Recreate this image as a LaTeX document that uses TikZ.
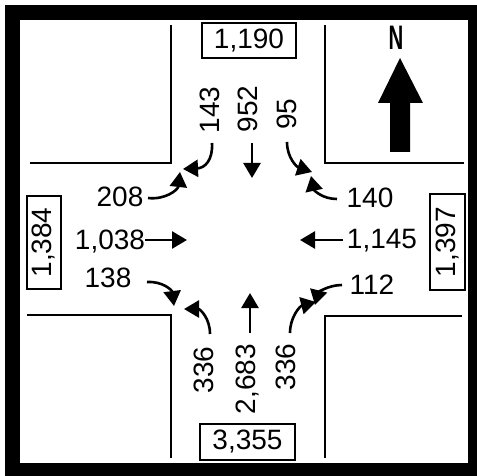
\documentclass[tikz,border=0pt]{standalone}
\usepackage{fontspec}
\setmainfont{Liberation Sans}
\usetikzlibrary{arrows.meta}
\begin{document}
\begin{tikzpicture}[x=1pt,y=-1pt,
  road/.style={line width=2.2pt},
  num/.style={font=\fontsize{28}{28}\selectfont, inner sep=0pt},
  flow/.style={line width=2.6pt, -{Triangle[length=15pt,width=17pt]}},
  tot/.style={draw, line width=1.6pt, font=\fontsize{28}{28}\selectfont, inner sep=0pt}]
\useasboundingbox (0,0) rectangle (477,476);
\fill[white] (0,0) rectangle (477,476);
\fill[black] (5,5) rectangle (477,476);
\fill[white] (20,20) rectangle (468,463);
% road edges
\draw[road] (30,163) -- (171,163) -- (171,25);
\draw[road] (325,25) -- (325,163) -- (464,163);
\draw[road] (27,315) -- (171,315) -- (171,458);
\draw[road] (462,316) -- (325,316) -- (325,458);
% north arrow
\node[font=\bfseries\fontsize{34}{34}\selectfont, xscale=0.6, inner sep=0pt] (north) at (396,38) {N};
\fill (400,58) -- (423,103) -- (410,103) -- (410,152) -- (390,152) -- (390,103) -- (378,103) -- cycle;
% totals
\node[tot, minimum width=94pt, minimum height=35pt] (tN) at (249,40.5) {1,190};
\node[tot, minimum width=95pt, minimum height=36pt] (tS) at (247.5,442) {3,355};
\node[tot, rotate=90, minimum width=93pt, minimum height=34pt] (tW) at (44,242.5) {1,384};
\node[tot, rotate=90, minimum width=96pt, minimum height=35pt] (tE) at (447.5,242) {1,397};
% volumes
\node[num, rotate=90] (n143) at (210,110) {143};
\node[num, rotate=90] (n952) at (248,109) {952};
\node[num, rotate=90] (n95) at (287,114) {95};
\node[num] (n208) at (120,197) {208};
\node[num] (n1038) at (110,242) {1,038};
\node[num] (n138) at (108,278) {138};
\node[num] (n140) at (370,198) {140};
\node[num] (n1145) at (382,241) {1,145};
\node[num] (n112) at (372,285) {112};
\node[num, rotate=90] (n336a) at (204,370) {336};
\node[num, rotate=90] (n2683) at (248,379) {2,683};
\node[num, rotate=90] (n336b) at (286,367) {336};
% arrow endpoints
\coordinate (s143) at (212,143); \coordinate (e143) at (183,169);
\coordinate (s208) at (148,198); \coordinate (e208) at (180,172);
\coordinate (s95) at (287,142); \coordinate (e95) at (312,172);
\coordinate (s140) at (337,199); \coordinate (e140) at (311,176);
\coordinate (s138) at (147,282); \coordinate (e138) at (174,306);
\coordinate (s336a) at (210,334); \coordinate (e336a) at (184,309);
\coordinate (s112) at (342,285); \coordinate (e112) at (315,305);
\coordinate (s336b) at (290,333); \coordinate (e336b) at (316,302);
\coordinate (sS) at (252,143); \coordinate (eS) at (252,178);
\coordinate (sN) at (250,333); \coordinate (eN) at (250,293);
\coordinate (sE) at (145,240); \coordinate (eE) at (187,240);
\coordinate (sW) at (343,240); \coordinate (eW) at (300,240);
% flows
\draw[flow] (s143) .. controls (213,160) and (205,168) .. (e143);
\draw[flow] (s208) .. controls (165,200) and (178,190) .. (e208);
\draw[flow] (s95) .. controls (287,158) and (297,167) .. (e95);
\draw[flow] (s140) .. controls (322,199) and (314,190) .. (e140);
\draw[flow] (s138) .. controls (162,281) and (172,290) .. (e138);
\draw[flow] (s336a) .. controls (210,318) and (200,309) .. (e336a);
\draw[flow] (s112) .. controls (328,285) and (318,293) .. (e112);
\draw[flow] (s336b) .. controls (290,317) and (300,306) .. (e336b);
\draw[flow] (sS) -- (eS);
\draw[flow] (sN) -- (eN);
\draw[flow] (sE) -- (eE);
\draw[flow] (sW) -- (eW);
\end{tikzpicture}
\end{document}
